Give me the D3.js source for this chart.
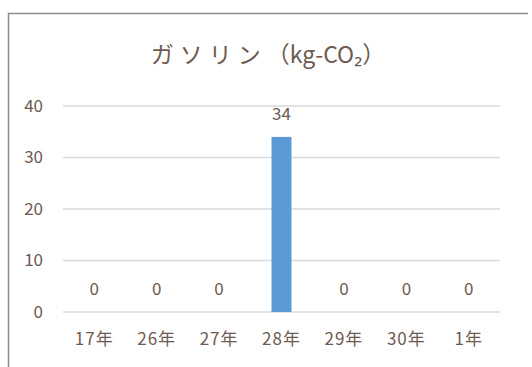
<!DOCTYPE html>
<html>
<head>
<meta charset="utf-8">
<script src="https://cdn.jsdelivr.net/npm/d3@7"></script>
<style>
  html, body { margin: 0; padding: 0; background: #fff; }
  svg { display: block; }
  text { font-family: "Noto Sans CJK JP", "Noto Sans", sans-serif; fill: #6e5a50; }
</style>
</head>
<body>
<svg id="chart" width="532" height="367"></svg>
<script>
// Gasoline CO2 emissions by year
const categories = ["17年", "26年", "27年", "28年", "29年", "30年", "1年"];
const values = [0, 0, 0, 34, 0, 0, 0];
const yTicks = [0, 10, 20, 30, 40];
const titleMain = "ガソリン";
const titleUnit = "（kg-CO₂）";

const svg = d3.select("#chart");
const plot = { left: 63, right: 500, top: 106, bottom: 312 };
const font = '"Noto Sans CJK JP", "Noto Sans", sans-serif';

// frame edges (top and left)
svg.append("path")
  .attr("d", "M8.5,367 V13.5 H528")
  .attr("fill", "none").attr("stroke", "#8c8c8c").attr("stroke-width", 1.5);

const x = d3.scaleBand().domain(categories).range([plot.left, plot.right]).paddingInner(0.68).paddingOuter(0.34);
const y = d3.scaleLinear().domain([0, 40]).range([plot.bottom, plot.top]);

// title
const t = svg.append("text")
  .attr("x", 268).attr("y", 63)
  .attr("text-anchor", "middle")
  .attr("font-size", 23);
t.append("tspan").attr("letter-spacing", 6).text(titleMain);
t.append("tspan").attr("letter-spacing", 0).text(titleUnit);

// gridlines
svg.append("g").selectAll("line").data(yTicks).join("line")
  .attr("x1", plot.left).attr("x2", plot.right)
  .attr("y1", d => y(d)).attr("y2", d => y(d))
  .attr("stroke", "#d9d9d9").attr("stroke-width", 1.5);

// y axis labels
const yAxis = d3.axisLeft(y).tickValues(yTicks).tickSize(0).tickPadding(0);
const gy = svg.append("g").attr("transform", `translate(43,0)`).call(yAxis);
gy.select(".domain").remove();
gy.selectAll("text").attr("font-size", 17).attr("fill", "#6e5a50").style("font-family", font);

// x axis labels
const xAxis = d3.axisBottom(x).tickSize(0).tickPadding(0);
const gx = svg.append("g").attr("transform", `translate(0,${plot.bottom + 21})`).call(xAxis);
gx.select(".domain").remove();
gx.selectAll("text").attr("font-size", 17).attr("letter-spacing", 1).attr("fill", "#6e5a50").style("font-family", font);

// bars
svg.append("g").selectAll("rect").data(values).join("rect")
  .attr("x", (d, i) => x(categories[i]))
  .attr("width", x.bandwidth())
  .attr("y", d => y(d))
  .attr("height", d => y(0) - y(d))
  .attr("fill", "#5b9bd5");

// value labels
svg.append("g").selectAll("text").data(values).join("text")
  .attr("x", (d, i) => x(categories[i]) + x.bandwidth() / 2)
  .attr("y", d => y(d) - 17)
  .attr("text-anchor", "middle")
  .attr("font-size", 17)
  .text(d => d);
</script>
</body>
</html>
